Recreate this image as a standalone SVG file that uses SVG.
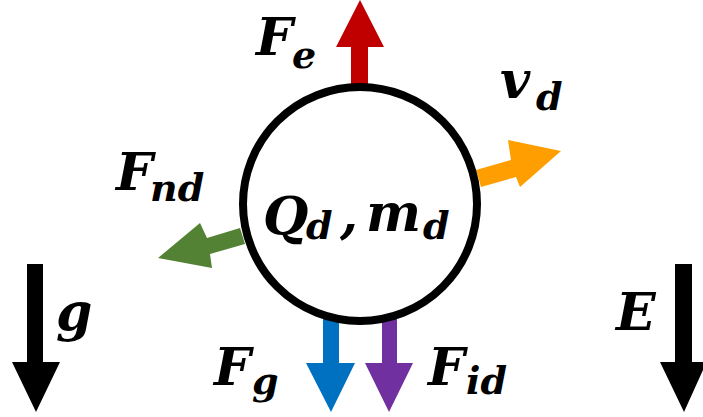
<svg xmlns="http://www.w3.org/2000/svg" width="703" height="417" viewBox="0 0 703 417">
<style>
.t{font-family:"DejaVu Serif","Liberation Serif",serif;font-weight:bold;font-style:italic;fill:#000}
.b{font-size:52px}
.s{font-size:38px}
</style>
<rect width="703" height="417" fill="#fff"/>
<g id="connectors">
<polygon id="arrow-Fe" fill="#C00000" points="351,86 351,47 336,47 360,0 384,47 368,47 368,86"/>
<polygon id="arrow-vd" fill="#FF9E00" points="476,170 511,160 508,140 561,151 520,187 516,177 481,187"/>
<polygon id="arrow-Fnd" fill="#548235" points="240,228 207,238 200,223 158,258 212,268 210,254 245,244"/>
<polygon id="arrow-Fg" fill="#0070C0" points="323,318 323,363 306,363 331,412 355,363 339,363 339,318"/>
<polygon id="arrow-Fid" fill="#7030A0" points="382,318 382,363 365,363 389,412 413,363 397,363 397,318"/>
<polygon id="arrow-g" fill="#000" points="27,264 27,362 12,362 36,412 60,362 43,362 43,264"/>
<polygon id="arrow-E" fill="#000" points="675,264 675,362 660,362 684,412 703,370 703,362 692,362 692,264"/>
</g>
<g id="droplet">
<circle cx="360" cy="204" r="117" fill="none" stroke="#000" stroke-width="8"/>
<text class="t b" x="263" y="234">Q</text><text class="t s" x="306" y="239">d</text>
<text class="t b" x="340" y="232">,</text>
<text class="t b" x="366" y="231">m</text><text class="t s" x="423" y="239">d</text>
</g>
<g id="label-Fe"><text class="t b" x="256" y="55">F</text><text class="t s" x="292" y="68">e</text></g>
<g id="label-vd"><text class="t b" x="500" y="98">v</text><text class="t s" x="536" y="110">d</text></g>
<g id="label-Fnd"><text class="t b" x="116" y="190">F</text><text class="t s" x="150" y="201">nd</text></g>
<g id="label-Fg"><text class="t b" x="214" y="385">F</text><text class="t s" x="252" y="394">g</text></g>
<g id="label-Fid"><text class="t b" x="428" y="385">F</text><text class="t s" x="466" y="394">id</text></g>
<g id="label-g"><text class="t b" x="56" y="330">g</text></g>
<g id="label-E"><text class="t b" x="616" y="330">E</text></g>
</svg>
